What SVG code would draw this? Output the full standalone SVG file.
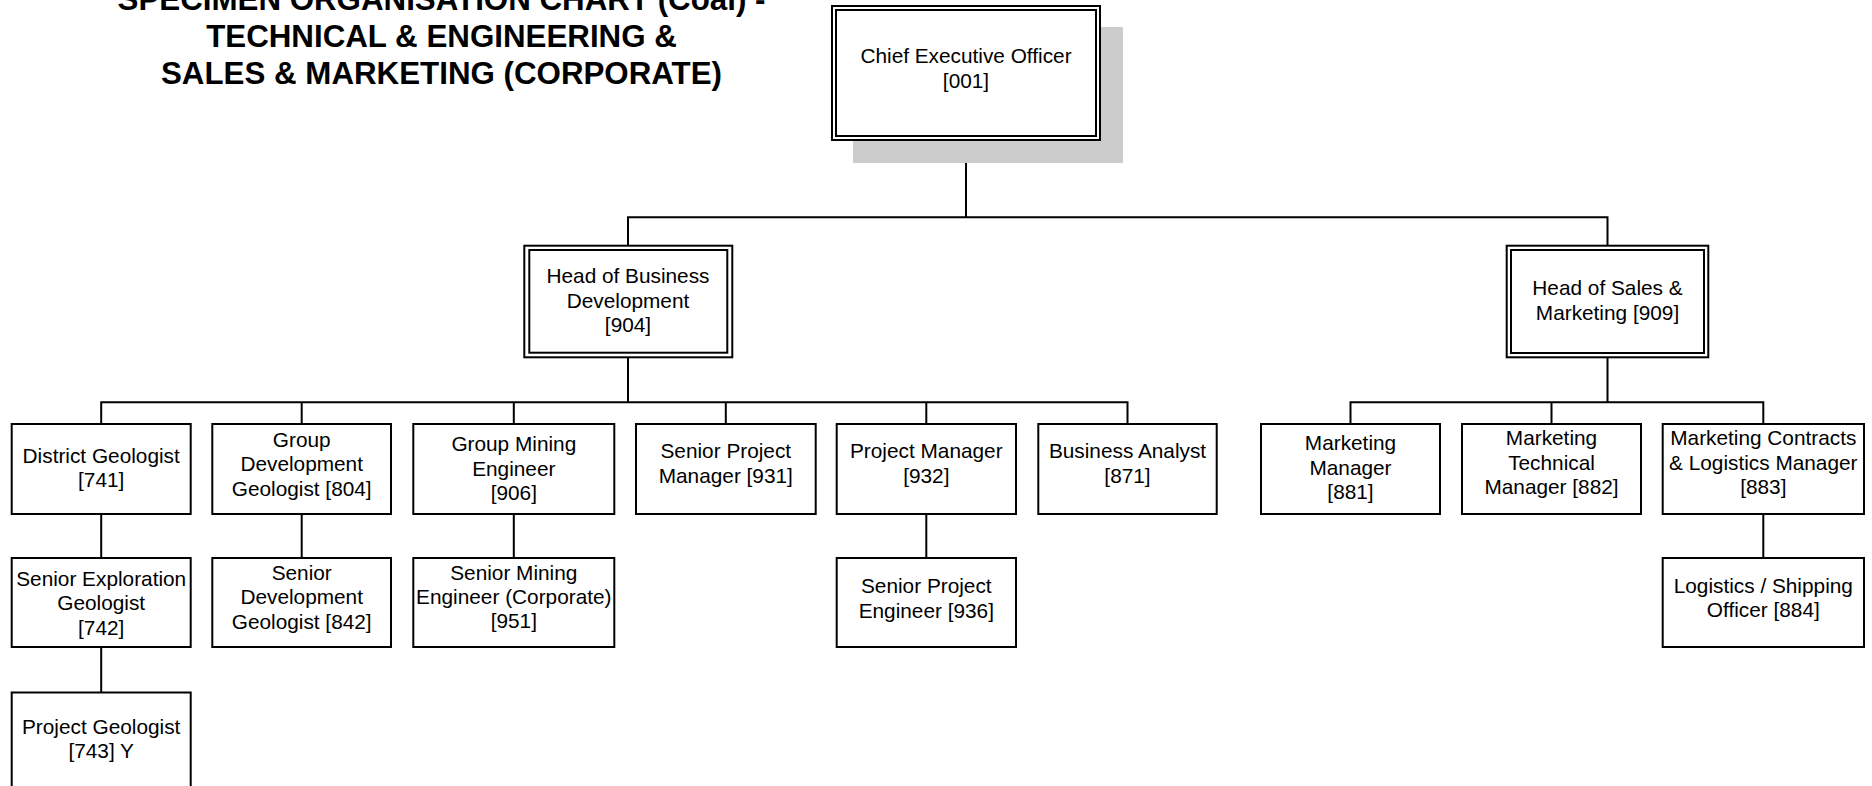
<svg xmlns="http://www.w3.org/2000/svg" width="1872" height="786" viewBox="0 0 1872 786">
<style>
  .bg { fill: #ffffff; }
  .box { fill: #ffffff; stroke: #000000; stroke-width: 2; }
  .inner { fill: none; stroke: #000000; stroke-width: 2; }
  .shadow { fill: #cccccc; stroke: none; }
  .conn { fill: none; stroke: #000000; stroke-width: 2; stroke-linecap: square; }
  .lbl { font-family: "Liberation Sans", Arial, sans-serif; font-size: 20.8px; fill: #000000; text-anchor: middle; }
  .title { font-family: "Liberation Sans", Arial, sans-serif; font-size: 31.3px; font-weight: bold; fill: #000000; text-anchor: middle; }
</style>
<rect class="bg" x="0" y="0" width="1872" height="786"/>

<g id="title">
  <text class="title" x="441.5" y="10">SPECIMEN ORGANISATION CHART (Coal) -</text>
  <text class="title" x="441.5" y="47">TECHNICAL &amp; ENGINEERING &amp;</text>
  <text class="title" x="441.5" y="84">SALES &amp; MARKETING (CORPORATE)</text>
</g>

<g id="connectors">
  <path class="conn" d="M966,140 V217.3 M628,217.3 H1607.5 M628,217.3 V245.7 M1607.5,217.3 V245.7"/>
  <path class="conn" d="M628,357.3 V402.3 M101.2,402.3 H1127.5 M101.2,402.3 V424 M301.7,402.3 V424 M513.8,402.3 V424 M725.8,402.3 V424 M926.3,402.3 V424 M1127.5,402.3 V424"/>
  <path class="conn" d="M1607.5,357.3 V402.3 M1350.5,402.3 H1763.3 M1350.5,402.3 V424 M1551.5,402.3 V424 M1763.3,402.3 V424"/>
  <path class="conn" d="M101.2,514 V558 M301.7,514 V558 M513.8,514 V558 M926.3,514 V558 M1763.3,514 V558"/>
  <path class="conn" d="M101.2,647 V692.5"/>
</g>

<g id="ceo">
  <rect class="shadow" x="853" y="27" width="270" height="136"/>
  <rect class="box" x="832" y="6" width="268" height="134"/>
  <rect class="inner" x="836" y="10" width="260" height="126"/>
  <text class="lbl" x="966" y="63">Chief Executive Officer</text>
  <text class="lbl" x="966" y="88">[001]</text>
</g>

<g id="head-business-development">
  <rect class="box" x="524.3" y="245.7" width="208" height="111.6"/>
  <rect class="inner" x="529.3" y="250" width="198" height="102.7"/>
  <text class="lbl" x="628" y="283">Head of Business</text>
  <text class="lbl" x="628" y="307.5">Development</text>
  <text class="lbl" x="628" y="332">[904]</text>
</g>

<g id="head-sales-marketing">
  <rect class="box" x="1506.7" y="245.7" width="201.6" height="111.6"/>
  <rect class="inner" x="1511" y="250" width="193" height="103"/>
  <text class="lbl" x="1607.5" y="295">Head of Sales &amp;</text>
  <text class="lbl" x="1607.5" y="320">Marketing [909]</text>
</g>

<g id="district-geologist">
  <rect class="box" x="11.7" y="424" width="179" height="90"/>
  <text class="lbl" x="101.2" y="463">District Geologist</text>
  <text class="lbl" x="101.2" y="487">[741]</text>
</g>

<g id="group-development-geologist">
  <rect class="box" x="212.3" y="424" width="178.7" height="90"/>
  <text class="lbl" x="301.7" y="446.5">Group</text>
  <text class="lbl" x="301.7" y="471">Development</text>
  <text class="lbl" x="301.7" y="495.5">Geologist [804]</text>
</g>

<g id="group-mining-engineer">
  <rect class="box" x="413.3" y="424" width="201" height="90"/>
  <text class="lbl" x="513.8" y="451">Group Mining</text>
  <text class="lbl" x="513.8" y="475.5">Engineer</text>
  <text class="lbl" x="513.8" y="500">[906]</text>
</g>

<g id="senior-project-manager">
  <rect class="box" x="636" y="424" width="179.7" height="90"/>
  <text class="lbl" x="725.8" y="458">Senior Project</text>
  <text class="lbl" x="725.8" y="482.5">Manager [931]</text>
</g>

<g id="project-manager">
  <rect class="box" x="836.7" y="424" width="179.3" height="90"/>
  <text class="lbl" x="926.3" y="458">Project Manager</text>
  <text class="lbl" x="926.3" y="482.5">[932]</text>
</g>

<g id="business-analyst">
  <rect class="box" x="1038.3" y="424" width="178.4" height="90"/>
  <text class="lbl" x="1127.5" y="458">Business Analyst</text>
  <text class="lbl" x="1127.5" y="482.5">[871]</text>
</g>

<g id="marketing-manager">
  <rect class="box" x="1261" y="424" width="179" height="90"/>
  <text class="lbl" x="1350.5" y="450">Marketing</text>
  <text class="lbl" x="1350.5" y="474.5">Manager</text>
  <text class="lbl" x="1350.5" y="499">[881]</text>
</g>

<g id="marketing-technical-manager">
  <rect class="box" x="1462" y="424" width="179" height="90"/>
  <text class="lbl" x="1551.5" y="445">Marketing</text>
  <text class="lbl" x="1551.5" y="469.5">Technical</text>
  <text class="lbl" x="1551.5" y="494">Manager [882]</text>
</g>

<g id="marketing-contracts-logistics-manager">
  <rect class="box" x="1662.7" y="424" width="201.3" height="90"/>
  <text class="lbl" x="1763.3" y="445">Marketing Contracts</text>
  <text class="lbl" x="1763.3" y="469.5">&amp; Logistics Manager</text>
  <text class="lbl" x="1763.3" y="494">[883]</text>
</g>

<g id="senior-exploration-geologist">
  <rect class="box" x="11.7" y="558" width="179" height="89"/>
  <text class="lbl" x="101.2" y="586">Senior Exploration</text>
  <text class="lbl" x="101.2" y="610">Geologist</text>
  <text class="lbl" x="101.2" y="634.5">[742]</text>
</g>

<g id="senior-development-geologist">
  <rect class="box" x="212.3" y="558" width="178.7" height="89"/>
  <text class="lbl" x="301.7" y="580">Senior</text>
  <text class="lbl" x="301.7" y="604">Development</text>
  <text class="lbl" x="301.7" y="628.5">Geologist [842]</text>
</g>

<g id="senior-mining-engineer">
  <rect class="box" x="413.3" y="558" width="201" height="89"/>
  <text class="lbl" x="513.8" y="579.5">Senior Mining</text>
  <text class="lbl" x="513.8" y="603.5">Engineer (Corporate)</text>
  <text class="lbl" x="513.8" y="628">[951]</text>
</g>

<g id="senior-project-engineer">
  <rect class="box" x="836.7" y="558" width="179.3" height="89"/>
  <text class="lbl" x="926.3" y="593">Senior Project</text>
  <text class="lbl" x="926.3" y="617.5">Engineer [936]</text>
</g>

<g id="logistics-shipping-officer">
  <rect class="box" x="1662.7" y="558" width="201.3" height="89"/>
  <text class="lbl" x="1763.3" y="592.5">Logistics / Shipping</text>
  <text class="lbl" x="1763.3" y="617">Officer [884]</text>
</g>

<g id="project-geologist">
  <rect class="box" x="11.7" y="692.5" width="179" height="110"/>
  <text class="lbl" x="101.2" y="733.5">Project Geologist</text>
  <text class="lbl" x="101.2" y="758">[743] Y</text>
</g>
</svg>
